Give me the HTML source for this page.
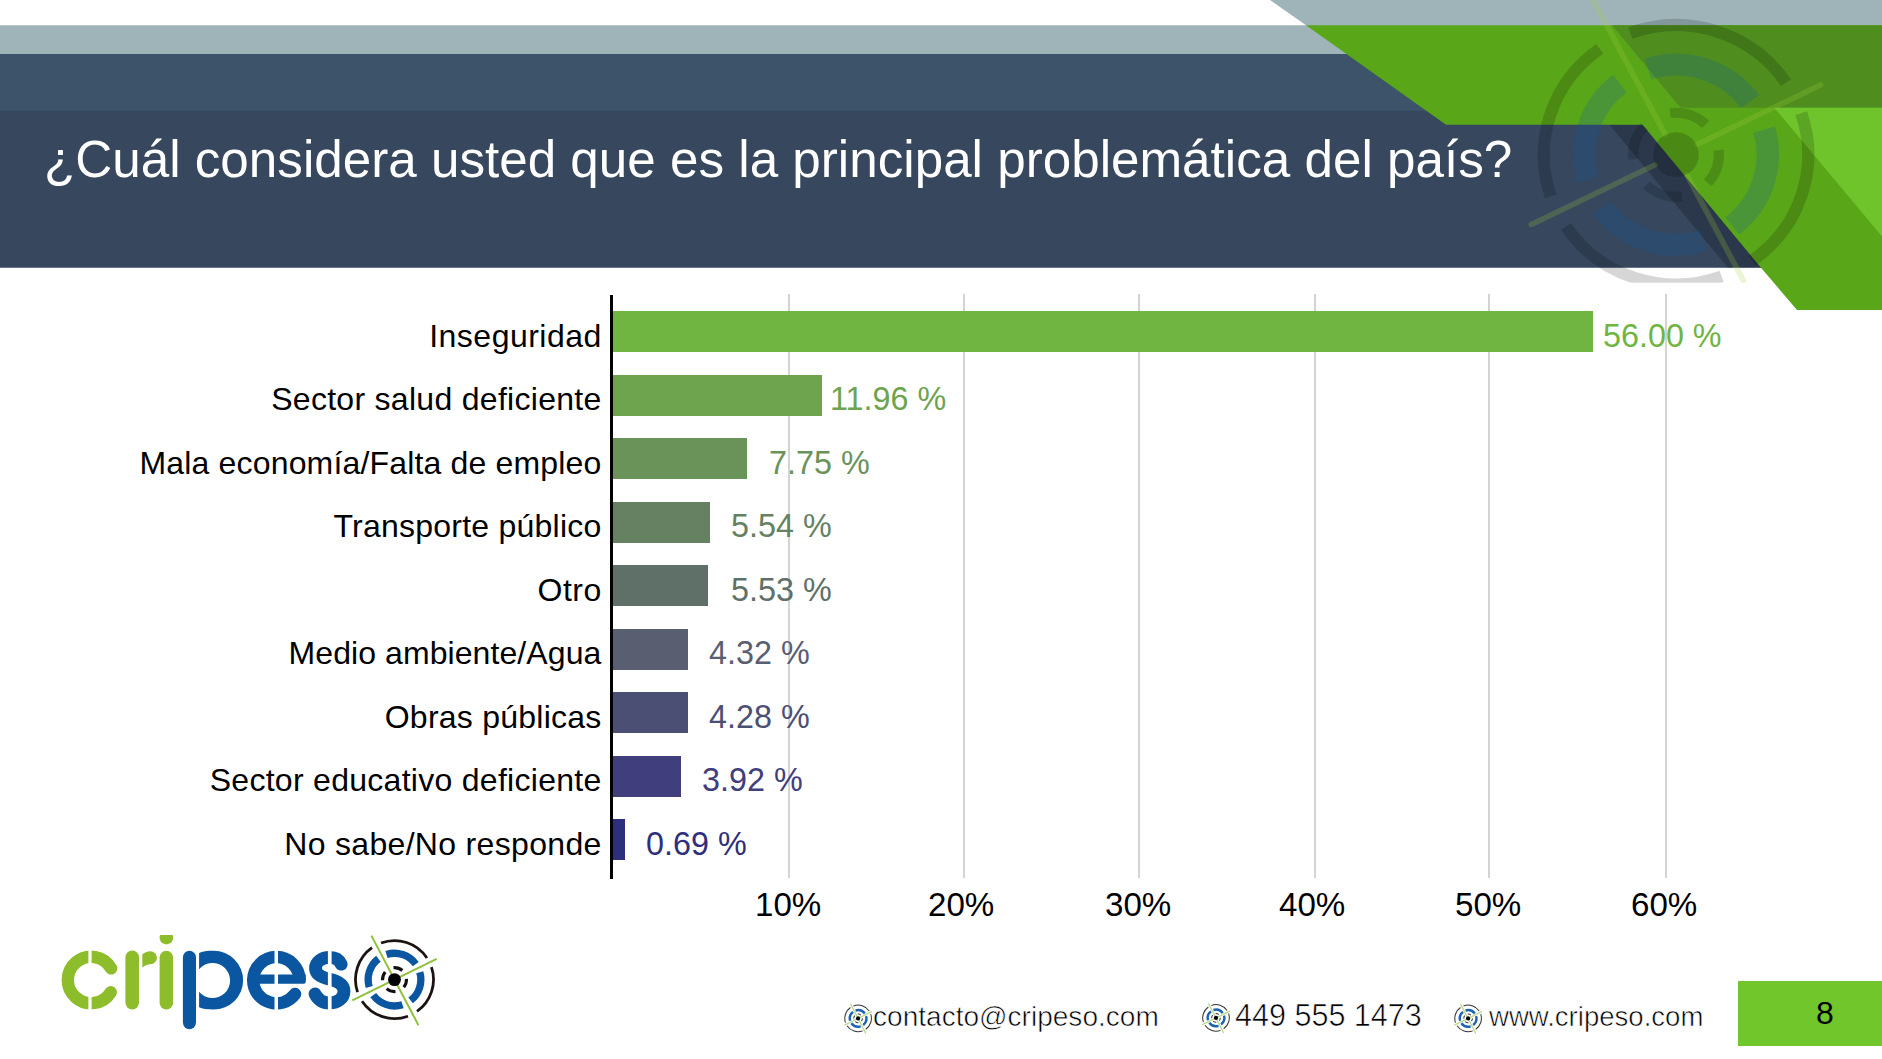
<!DOCTYPE html>
<html><head><meta charset="utf-8">
<style>
html,body{margin:0;padding:0}
body{width:1882px;height:1059px;position:relative;overflow:hidden;background:#fff;font-family:"Liberation Sans",sans-serif}
.a{position:absolute;white-space:nowrap;line-height:1}
.lbl{position:absolute;right:1280.7px;font-size:32px;line-height:1;color:#000;white-space:nowrap}
.val{position:absolute;font-size:32px;line-height:1;white-space:nowrap;transform:scale(1.01,1.06);transform-origin:0 27px}
.bar{position:absolute;left:613.2px;height:41px}
.grid{position:absolute;top:294.3px;width:2px;height:584px;background:#d4d4d4}
.tick{position:absolute;font-size:32px;line-height:1;color:#000;white-space:nowrap;top:888.5px;transform:scale(1.035,1.06);transform-origin:0 27px}
.ft{position:absolute;font-size:28px;line-height:1;color:#000;white-space:nowrap;top:1002.8px;transform-origin:0 0;-webkit-text-stroke:0.6px #fff}
</style></head>
<body>
<!-- HEADER -->
<svg class="a" style="left:0;top:0" width="1882" height="320" viewBox="0 0 1882 320">
  <polygon points="0,25.3 1306,25.3 1270,0 1882,0 1882,56 0,56" fill="#9eb4b8"/>
  <rect x="0" y="54" width="1500" height="61" fill="#3d5369"/>
  <polygon points="0,110.8 1660,110.8 1775,250 1775,267.8 0,267.8" fill="#36475e"/>
  <polygon points="1609.5,124.8 1660,124.8 1780,267.8 1728,267.8" fill="#000" fill-opacity="0.2"/>
  <polygon points="1306,25.3 1882,25.3 1882,310 1797,310 1761,267.8 1642.5,124.8 1446,124.8" fill="#5aa619"/>
  <polygon points="1612,25.3 1882,25.3 1882,107.7 1680.5,107.7" fill="#4f8e1e"/>
  <polygon points="1774.4,107.7 1882,107.7 1882,236.5" fill="#6ec42a"/>
  <clipPath id="wc"><rect x="1400" y="0" width="482" height="282.8"/></clipPath>
  <g clip-path="url(#wc)">
  <g transform="translate(1676 154.7) scale(1.02 1)" fill="none">
    <path d="M10.69 20.36L66.01 125.73M-10.69 -20.36L-83.67 -159.37M20.64 -10.15L141.77 -69.76M-20.64 10.15L-141.77 69.76" stroke="#a3d03c" stroke-opacity="0.22" stroke-width="5.5" stroke-linecap="round"/>
    <path d="M44.76 121.65A129.6 129.6 0 0 1 -107.84 71.91M-122.77 41.55A129.6 129.6 0 0 1 -74.71 -105.90M-44.76 -121.65A129.6 129.6 0 0 1 107.84 -71.91M122.77 -41.55A129.6 129.6 0 0 1 74.71 105.90" stroke="#000" stroke-opacity="0.16" stroke-width="12"/>
    <path d="M27.37 85.74A90 90 0 0 1 -72.63 53.16M-86.43 25.11A90 90 0 0 1 -55.04 -71.21M-27.37 -85.74A90 90 0 0 1 72.63 -53.16M86.43 -25.11A90 90 0 0 1 55.04 71.21" stroke="#0d5aa6" stroke-opacity="0.22" stroke-width="22"/>
    <path d="M5.63 41.62A42 42 0 0 1 -29.07 30.31M-41.75 4.54A42 42 0 0 1 -31.06 -28.27M-5.63 -41.62A42 42 0 0 1 29.07 -30.31M41.75 -4.54A42 42 0 0 1 31.06 28.27" stroke="#000" stroke-opacity="0.15" stroke-width="10"/>
    <circle r="22.4" fill="#000" fill-opacity="0.17"/>
  </g>
  </g>
</svg>
<div class="a" style="left:44px;top:134px;font-size:51.2px;color:#fff">¿Cuál considera usted que es la principal problemática del país?</div>

<!-- CHART -->
<div class="grid" style="left:788px"></div>
<div class="grid" style="left:963px"></div>
<div class="grid" style="left:1138px"></div>
<div class="grid" style="left:1314px"></div>
<div class="grid" style="left:1488px"></div>
<div class="grid" style="left:1665px"></div>
<div class="a" style="left:610px;top:294.5px;width:3.2px;height:584px;background:#000"></div>
<div class="bar" style="top:311.3px;width:980.3px;background:#70b542"></div>
<div class="bar" style="top:374.8px;width:209.1px;background:#6ea44e"></div>
<div class="bar" style="top:438.2px;width:134.1px;background:#6a9359"></div>
<div class="bar" style="top:501.7px;width:96.7px;background:#658162"></div>
<div class="bar" style="top:565.2px;width:95.0px;background:#5f7068"></div>
<div class="bar" style="top:628.7px;width:74.8px;background:#595e70"></div>
<div class="bar" style="top:692.2px;width:74.8px;background:#4c4f74"></div>
<div class="bar" style="top:755.6px;width:68.0px;background:#413e7d"></div>
<div class="bar" style="top:819.1px;width:11.9px;background:#2e2f7c"></div>
<div class="lbl" style="top:319.8px;letter-spacing:0.486px;margin-right:-0.486px">Inseguridad</div>
<div class="lbl" style="top:383.3px;letter-spacing:0.289px;margin-right:-0.289px">Sector salud deficiente</div>
<div class="lbl" style="top:446.8px;letter-spacing:0.166px;margin-right:-0.166px">Mala economía/Falta de empleo</div>
<div class="lbl" style="top:510.2px;letter-spacing:0.233px;margin-right:-0.233px">Transporte público</div>
<div class="lbl" style="top:573.7px;letter-spacing:0.522px;margin-right:-0.522px">Otro</div>
<div class="lbl" style="top:637.2px;letter-spacing:0.082px;margin-right:-0.082px">Medio ambiente/Agua</div>
<div class="lbl" style="top:700.7px;letter-spacing:0.243px;margin-right:-0.243px">Obras públicas</div>
<div class="lbl" style="top:764.1px;letter-spacing:0.284px;margin-right:-0.284px">Sector educativo deficiente</div>
<div class="lbl" style="top:827.6px;letter-spacing:0.321px;margin-right:-0.321px">No sabe/No responde</div>
<div class="val" style="left:1602.6px;top:319.8px;color:#70b542">56.00 %</div>
<div class="val" style="left:829.8px;top:383.3px;color:#6ea44e">11.96 %</div>
<div class="val" style="left:769.2px;top:446.8px;color:#6a9359">7.75 %</div>
<div class="val" style="left:730.6px;top:510.2px;color:#658162">5.54 %</div>
<div class="val" style="left:730.5px;top:573.7px;color:#5f7068">5.53 %</div>
<div class="val" style="left:708.6px;top:637.2px;color:#595e70">4.32 %</div>
<div class="val" style="left:708.6px;top:700.7px;color:#4c4f74">4.28 %</div>
<div class="val" style="left:701.9px;top:764.1px;color:#413e7d">3.92 %</div>
<div class="val" style="left:645.6px;top:827.6px;color:#2e2f7c">0.69 %</div>
<div class="tick" style="left:755.2px">10%</div>
<div class="tick" style="left:928.4px">20%</div>
<div class="tick" style="left:1104.5px">30%</div>
<div class="tick" style="left:1279.4px">40%</div>
<div class="tick" style="left:1454.5px">50%</div>
<div class="tick" style="left:1630.5px">60%</div>

<!-- FOOTER -->
<svg class="a" style="left:0;top:920px" width="1882" height="139" viewBox="0 920 1882 139">
  <defs>
    <g id="tg">
      <path d="M13.47 36.60A39 39 0 0 1 -32.45 21.64M-36.94 12.50A39 39 0 0 1 -22.48 -31.87M-13.47 -36.60A39 39 0 0 1 32.45 -21.64M36.94 -12.50A39 39 0 0 1 22.48 31.87" fill="none" stroke="#1a1311" stroke-width="2.8"/>
      <path d="M8.01 25.10A26.35 26.35 0 0 1 -21.26 15.56M-25.30 7.35A26.35 26.35 0 0 1 -16.11 -20.85M-8.01 -25.10A26.35 26.35 0 0 1 21.26 -15.56M25.30 -7.35A26.35 26.35 0 0 1 16.11 20.85" fill="none" stroke="#0b56a0" stroke-width="7.3"/>
      <path d="M0.98 11.96A12 12 0 0 1 -7.84 9.08M-11.98 0.67A12 12 0 0 1 -9.29 -7.60M-0.98 -11.96A12 12 0 0 1 7.84 -9.08M11.98 -0.67A12 12 0 0 1 9.29 7.60" fill="none" stroke="#111" stroke-width="3.1"/>
      <circle r="6.45" fill="#000"/>
    </g>
  </defs>
  <!-- logo letters -->
  <g fill="none" stroke-linecap="round">
    <path d="M111.09 968.4A23.2 23.2 0 1 0 110.76 992.16" stroke="#8dbd2a" stroke-width="12.4"/>
    <path d="M132.2 957.4V1002.6" stroke="#8dbd2a" stroke-width="13.6"/>
    <path d="M166.35 957.5V1002.8" stroke="#8dbd2a" stroke-width="13.5"/>
    <path d="M189.45 957.4V1022.6" stroke="#0b56a0" stroke-width="13.1"/>
    <path d="M253.2 980.2A23.2 23.2 0 0 1 299.6 980.2" stroke="#0b56a0" stroke-width="12.4" stroke-linecap="butt"/>
    <path d="M253.2 980.2A23.2 23.2 0 0 0 295.05 993.99" stroke="#0b56a0" stroke-width="12.4"/>
    <path d="M341.2 964.2C339 959.5 335 957.4 329.75 957.4C321.5 957.4 315.5 962 315.5 968.2C315.5 975 322 977.5 329.75 979.2C337.5 981 344 984 344 991.2C344 998.5 337.5 1003 329.75 1003C323 1003 318 1000 315 993.9" stroke="#0b56a0" stroke-width="12.8"/>
  </g>
  <path d="M160.1 935.1H172.6A6.75 6.75 0 1 1 160.1 935.1Z" fill="#8dbd2a"/>
  <path d="M142.3 954.3C145 952.3 147.5 951.3 150.5 951.3A6.45 6.45 0 0 1 150.5 964.2C147.5 964.2 144.5 965.5 142.3 967.5Z" fill="#8dbd2a"/>
  <path d="M199.1 953C202 951.3 207 950.8 213.75 950.8A29.35 29.35 0 0 1 213.75 1009.5C207 1009.5 202 1009 199.1 1007.3ZM199.1 969.15A17.55 17.55 0 1 1 199.1 991.75Z" fill="#0b56a0" fill-rule="evenodd"/>
  <path d="M256 974.4H305.8V981.7Q305.8 983.7 303.8 983.7H256Z" fill="#0b56a0"/>
  <!-- stencil gaps -->
  <rect x="88.4" y="945" width="3.2" height="70" fill="#fff"/>
  <rect x="274.5" y="945" width="3.5" height="70" fill="#fff"/>
  <rect x="327.9" y="945" width="3.7" height="70" fill="#fff"/>
  <!-- logo target -->
  <g transform="translate(394.5 979.6)">
    <path d="M24.03 45.77L-23.10 -44.00M42.17 -20.75L-42.17 20.75" stroke="#8fc13a" stroke-width="2"/>
    <use href="#tg"/>
  </g>
  <!-- small icons -->
  <g id="si" transform="translate(858.1 1018.4)">
    <path d="M7.7 15.1L-7.6 -14.5M13.7 -6.8L-13.7 6.8" stroke="#b9d98c" stroke-width="1.3"/>
    <path d="M13.47 36.60A39 39 0 0 1 -32.45 21.64M-36.94 12.50A39 39 0 0 1 -22.48 -31.87M-13.47 -36.60A39 39 0 0 1 32.45 -21.64M36.94 -12.50A39 39 0 0 1 22.48 31.87" transform="scale(0.341)" fill="none" stroke="#3a3432" stroke-width="3.0"/>
    <path d="M8.01 25.10A26.35 26.35 0 0 1 -21.26 15.56M-25.30 7.35A26.35 26.35 0 0 1 -16.11 -20.85M-8.01 -25.10A26.35 26.35 0 0 1 21.26 -15.56M25.30 -7.35A26.35 26.35 0 0 1 16.11 20.85" transform="scale(0.315)" fill="none" stroke="#1a62b5" stroke-width="7.6"/>
    <path d="M0.98 11.96A12 12 0 0 1 -7.84 9.08M-11.98 0.67A12 12 0 0 1 -9.29 -7.60M-0.98 -11.96A12 12 0 0 1 7.84 -9.08M11.98 -0.67A12 12 0 0 1 9.29 7.60" transform="scale(0.36)" fill="none" stroke="#444" stroke-width="3"/>
    <circle r="2.1" fill="#000"/>
  </g>
  <use href="#si" transform="translate(357.9 -0.5)"/>
  <use href="#si" transform="translate(610 0)"/>
</svg>
<div class="a" style="left:1738px;top:981px;width:144px;height:64.5px;background:#70c62a"></div>
<div class="a" style="left:1816px;top:997px;font-size:32px;color:#000">8</div>

<div class="ft" style="left:873.4px;transform:scaleX(1.002)">contacto@cripeso.com</div>
<div class="ft" style="left:1234.6px;top:1000px;font-size:30.5px;transform:scaleX(1.001)">449 555 1473</div>
<div class="ft" style="left:1488.6px;transform:scaleX(0.984)">www.cripeso.com</div>

</body></html>
